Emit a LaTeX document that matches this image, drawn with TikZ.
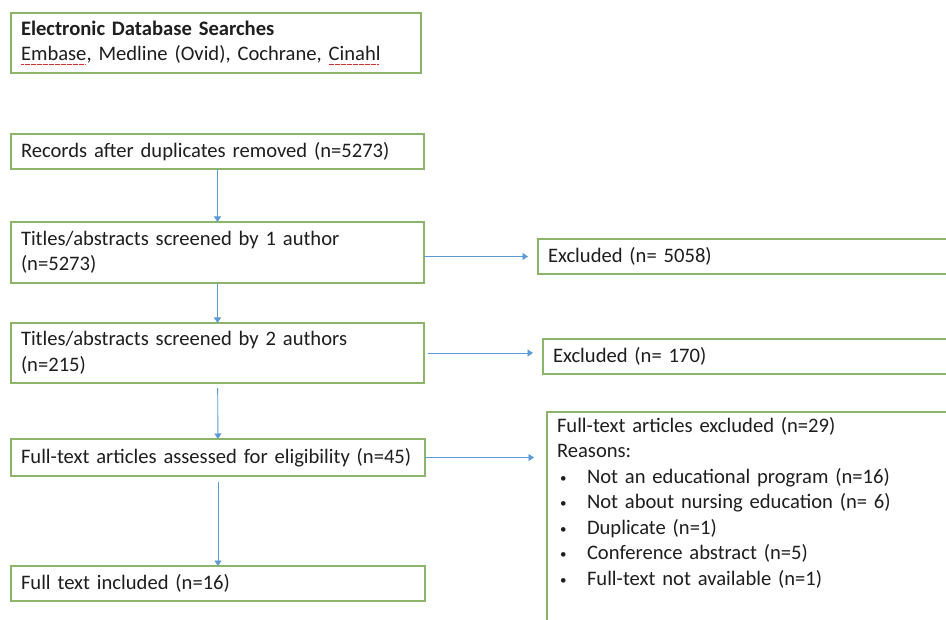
\documentclass[tikz,border=0pt]{standalone}
\usepackage{fontspec}
\setmainfont{Carlito}[WordSpace=0.8]
\usepackage{xcolor}
\usepackage{tikz}
\usetikzlibrary{
  arrows.meta,
  positioning,
  calc
}
\definecolor{boxgreen}{HTML}{8DB56A}
\definecolor{flowblue}{HTML}{5B9BD5}
\definecolor{spellred}{HTML}{D03030}
\definecolor{inkgray}{HTML}{1E1E1E}
\newcommand\spellwave[1]{\leavevmode\setbox0\hbox{#1}\rlap{\textcolor{spellred}{\hbox to\wd0{\leaders\hbox to 2.4pt{\rule[-4.4pt]{0.9pt}{0.8pt}\hfil\rule[-3.6pt]{0.9pt}{0.8pt}\hfil}\hfill}}}\box0}
\newcommand\reason{\hspace*{3pt}\makebox[27pt][l]{\raisebox{1pt}{\fontsize{13}{13}\selectfont •}}}
\tikzset{
  box/.style=
  {
    draw=boxgreen,
    line width=1.2pt,
    anchor=north west,
    align=left,
    inner xsep=10pt,
    inner ysep=0pt,
    outer sep=0pt,
    text=inkgray,
    font=\fontsize{20.6}{25.5}\selectfont
  },
  flow/.style=
  {
    draw=flowblue,
    line width=0.9pt,
    -{Triangle[length=5.5pt,width=7pt]}
  }
 }

\begin{document}
\begin{tikzpicture}[x=1pt, y=-1pt]
  \path[use as bounding box, clip] (0,0) rectangle (946,620);
  \fill[white] (0,0) rectangle (946,620);
  % left column
  \node[box, minimum width=410pt, minimum height=60pt, text width=390pt] (search) at (11,13)
    {\textbf{Electronic Database Searches}\\\spellwave{Embase}, Medline (Ovid), Cochrane, \spellwave{Cinahl}};
  \node[box, minimum width=413pt, minimum height=35pt, text width=393pt] (dedup) at (11,134)
    {Records after duplicates removed (n=5273)};
  \node[box, minimum width=413pt, minimum height=61pt, text width=393pt] (screenone) at (11,222)
    {Titles/abstracts screened by 1 author\\(n=5273)};
  \node[box, minimum width=413pt, minimum height=60pt, text width=393pt] (screentwo) at (11,323)
    {Titles/abstracts screened by 2 authors\\(n=215)};
  \node[box, minimum width=414pt, minimum height=37pt, text width=394pt] (fulltext) at (11,439)
    {Full-text articles assessed for eligibility (n=45)};
  \node[box, minimum width=414pt, minimum height=35pt, text width=394pt] (included) at (11,566)
    {Full text included (n=16)};
  % right column
  \node[box, minimum width=440pt, minimum height=35pt, text width=420pt] (exclone) at (538,239)
    {Excluded (n= 5058)};
  \node[box, minimum width=440pt, minimum height=35pt, text width=420pt] (excltwo) at (543,339)
    {Excluded (n= 170)};
  \node[box, minimum width=440pt, text width=420pt, text depth=200pt, inner ysep=5pt] (exclfull) at (547,412)
    {Full-text articles excluded (n=29)\\
     Reasons:\\
     \reason Not an educational program (n=16)\\
     \reason Not about nursing education (n= 6)\\
     \reason Duplicate (n=1)\\
     \reason Conference abstract (n=5)\\
     \reason Full-text not available (n=1)};
  % arrows
  \draw[flow] (dedup) -- (screenone);
  \draw[flow] (screenone) -- (screentwo);
  \draw[flow, shorten <=5pt] (screentwo) -- (fulltext);
  \draw[flow, shorten <=6pt] (fulltext) -- (included);
  \draw[flow, shorten >=10pt] (screenone.east |- exclone.west) -- (exclone.west);
  \draw[flow, shorten <=4pt, shorten >=10pt] (screentwo.east) -- (screentwo.east -| excltwo.west);
  \draw[flow, shorten >=13pt] (fulltext.east) -- (fulltext.east -| exclfull.west);
\end{tikzpicture}
\end{document}
